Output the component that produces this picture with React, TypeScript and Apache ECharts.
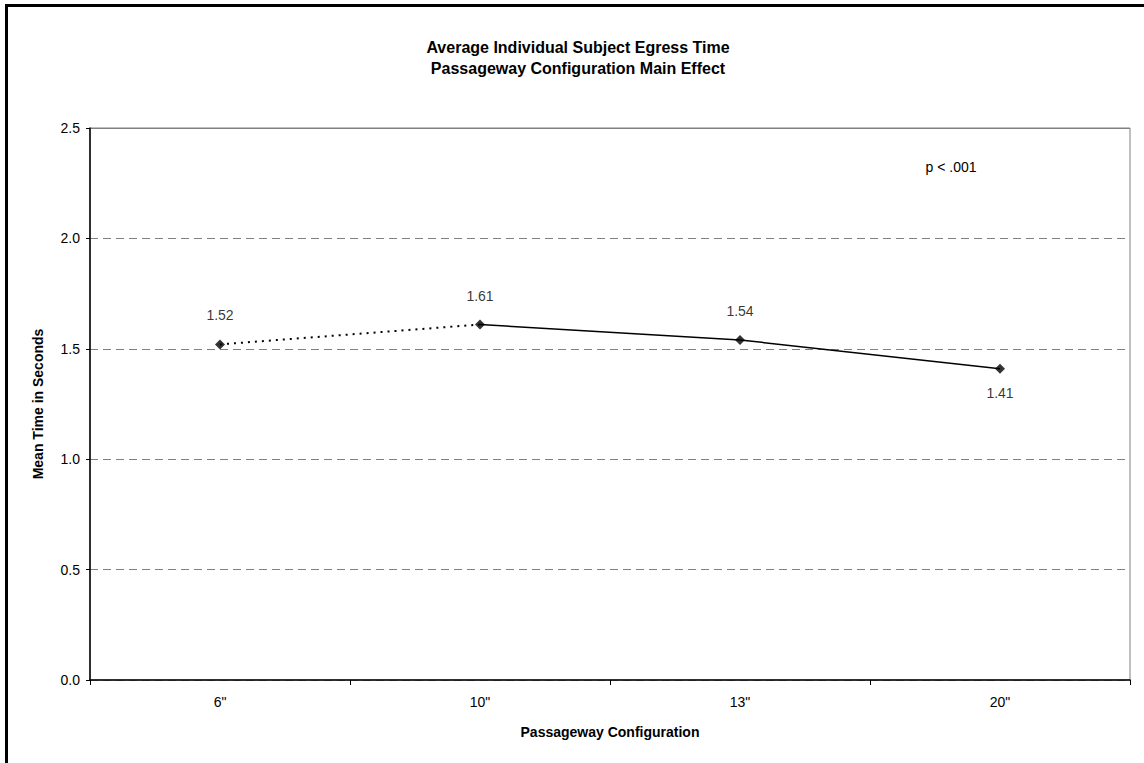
import React, { useEffect, useRef } from "react";
import * as echarts from "echarts";

const categories = ['6"', '10"', '13"', '20"'];
const meanTimes = [1.52, 1.61, 1.54, 1.41];
const labelPositions = ["top", "top", "top", "bottom"];
const dottedUntil = 1; // segment 6" -> 10" is dotted
const yTicks = [0, 0.5, 1.0, 1.5, 2.0, 2.5];
const titleLines = ["Average Individual Subject Egress Time", "Passageway Configuration Main Effect"];
const xTitle = "Passageway Configuration";
const yTitle = "Mean Time in Seconds";
const note = "p < .001";

const FONT = "Arial, 'Liberation Sans', sans-serif";

export default function App() {
  const ref = useRef<HTMLDivElement>(null);
  useEffect(() => {
    document.body.style.margin = "0";
    if (!ref.current) return;
    const chart = echarts.init(ref.current, null, { renderer: "svg" });
    const dotted = meanTimes.map((v, i) => (i <= dottedUntil ? v : null));
    const solid = meanTimes.map((v, i) => (i >= dottedUntil ? v : null));
    chart.setOption({
      animation: false,
      backgroundColor: "#ffffff",
      textStyle: { fontFamily: FONT },
      grid: {
        left: 90,
        right: 14,
        top: 128,
        bottom: 83,
        show: true,
        borderColor: "#808080",
        borderWidth: 1,
      },
      xAxis: {
        type: "category",
        data: categories,
        boundaryGap: true,
        axisLine: { lineStyle: { color: "#000", width: 1.5 } },
        axisTick: { show: true, length: 5, inside: false, lineStyle: { color: "#000" } },
        axisLabel: { color: "#000", fontSize: 14, fontFamily: FONT, margin: 15 },
        splitLine: { show: false },
        name: xTitle,
        nameLocation: "middle",
        nameGap: 45,
        nameTextStyle: { color: "#000", fontSize: 14, fontWeight: "bold", fontFamily: FONT },
      },
      yAxis: {
        type: "value",
        min: yTicks[0],
        max: yTicks[yTicks.length - 1],
        interval: 0.5,
        axisLine: { show: true, lineStyle: { color: "#000", width: 1.5 } },
        axisTick: { show: true, length: 4, inside: false, lineStyle: { color: "#000" } },
        axisLabel: {
          color: "#000",
          fontSize: 14,
          fontFamily: FONT,
          margin: 10,
          formatter: (v: number) => v.toFixed(1),
        },
        splitLine: { show: true, lineStyle: { color: "#808080", type: [8, 5], width: 1 } },
        name: yTitle,
        nameLocation: "middle",
        nameRotate: 90,
        nameGap: 45,
        nameTextStyle: { color: "#000", fontSize: 14, fontWeight: "bold", fontFamily: FONT },
      },
      series: [
        {
          type: "line",
          data: dotted,
          symbol: "none",
          lineStyle: { color: "#000", width: 2, type: [2, 5] },
          z: 2,
        },
        {
          type: "line",
          data: solid,
          symbol: "none",
          lineStyle: { color: "#000", width: 1.5, type: "solid" },
          z: 2,
        },
        {
          type: "scatter",
          data: meanTimes.map((v, i) => ({
            value: v,
            label: {
              position: labelPositions[i],
              distance: labelPositions[i] === "bottom" ? 12 : 17,
            },
          })),
          symbol: "diamond",
          symbolSize: 10,
          itemStyle: { color: "#000" },
          label: {
            show: true,
            color: "#000",
            fontSize: 14,
            fontFamily: FONT,
            formatter: (p: any) => p.value.toFixed(2),
          },
          z: 3,
        },
      ],
      graphic: [
        {
          type: "line",
          shape: { x1: 6.5, y1: 4, x2: 6.5, y2: 763 },
          style: { stroke: "#000", lineWidth: 3 },
        },
        {
          type: "line",
          shape: { x1: 5, y1: 5.5, x2: 1144, y2: 5.5 },
          style: { stroke: "#000", lineWidth: 3 },
        },
        {
          type: "line",
          shape: { x1: 90, y1: 128.5, x2: 1130, y2: 128.5 },
          style: { stroke: "#808080", lineWidth: 1 },
        },
        {
          type: "text",
          x: 578,
          y: 37,
          style: {
            text: titleLines.join("\n"),
            textAlign: "center",
            textVerticalAlign: "top",
            fontSize: 16,
            fontWeight: "bold",
            fontFamily: FONT,
            lineHeight: 21,
            fill: "#000",
          },
        },
        {
          type: "text",
          x: 951,
          y: 167,
          style: {
            text: note,
            textAlign: "center",
            textVerticalAlign: "middle",
            fontSize: 14,
            fontFamily: FONT,
            fill: "#000",
          },
        },
      ],
    });
    return () => chart.dispose();
  }, []);
  return <div ref={ref} style={{ width: 1144, height: 763 }} />;
}
